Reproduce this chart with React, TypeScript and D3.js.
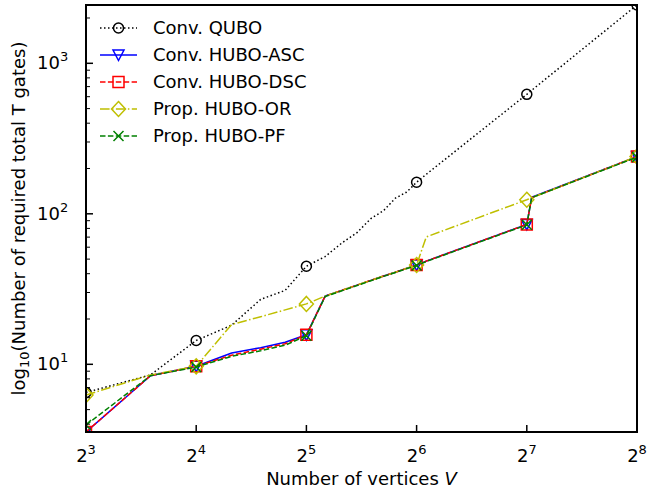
import React, { useEffect, useRef } from 'react';
import * as d3 from 'd3';

// number of vertices V (markers only at powers of two)
const vertices = [8, 12, 16, 20, 24, 28, 32, 36, 40, 44, 48, 52, 56, 60, 64, 68, 128, 132, 256];
const markedVertices = [8, 16, 32, 64, 128, 256];

// total T gates per method
const convQubo = [6.5, 8.5, 14.4, 18.2, 27, 31, 44.8, 52, 64, 75, 93, 105, 127, 139, 162, 183, 622, 662, 2440];
const convHuboAsc = [3.55, 8.4, 9.7, 11.9, 12.9, 14.0, 15.7, 28.4, 31, 33.6, 36.1, 38.6, 40.9, 43.4, 45.7, 48.5, 85, 129, 240];
const convHuboDsc = [3.55, 8.4, 9.7, 11.5, 12.6, 13.7, 15.7, 28.4, 31, 33.6, 36.1, 38.6, 40.9, 43.4, 45.7, 48.5, 85, 128, 240];
const propHuboOr = [6.25, 8.5, 9.7, 18.4, 20.7, 23.0, 25.2, 28.4, 31, 33.6, 36.1, 38.6, 40.9, 43.4, 45.7, 70.2, 124, 128, 240];
const propHuboPf = [3.95, 8.4, 9.6, 11.3, 12.3, 13.4, 15.5, 28.2, 30.8, 33.4, 35.9, 38.4, 40.7, 43.2, 45.4, 48.2, 84.5, 128, 238];

const seriesNames = ['Conv. QUBO', 'Conv. HUBO-ASC', 'Conv. HUBO-DSC', 'Prop. HUBO-OR', 'Prop. HUBO-PF'];

const xTickExponents = [3, 4, 5, 6, 7, 8];
const yTickExponents = [1, 2, 3];

type Marker = 'circle' | 'triangleDown' | 'square' | 'diamond' | 'x';

const styles: { color: string; dash: string; marker: Marker }[] = [
  { color: '#000000', dash: '1.5,2.5', marker: 'circle' },
  { color: '#0000ff', dash: '', marker: 'triangleDown' },
  { color: '#ff0000', dash: '5.5,2.4', marker: 'square' },
  { color: '#bfbf00', dash: '9.6,2.4,1.5,2.4', marker: 'diamond' },
  { color: '#008000', dash: '5.5,2.4', marker: 'x' },
];

const markerPath = (m: Marker): string => {
  switch (m) {
    case 'circle':
      return 'M5,0A5,5 0 1,1 -5,0A5,5 0 1,1 5,0Z';
    case 'triangleDown':
      return 'M-5.5,-5L5.5,-5L0,5.5Z';
    case 'square':
      return 'M-5.5,-5.5L5.5,-5.5L5.5,5.5L-5.5,5.5Z';
    case 'diamond':
      return 'M0,-7.5L7,0L0,7.5L-7,0Z';
    default:
      return 'M-5,-5L5,5M-5,5L5,-5';
  }
};

const FONT = 'DejaVu Sans, sans-serif';
const FS = 18;

const App: React.FC = () => {
  const svgRef = useRef<SVGSVGElement>(null);

  useEffect(() => {
    if (!svgRef.current) return;
    const svg = d3.select(svgRef.current);
    svg.selectAll('*').remove();

    const width = 647;
    const height = 491;
    const margin = { top: 5, right: 10, bottom: 59, left: 86 };
    const innerW = width - margin.left - margin.right;
    const innerH = height - margin.top - margin.bottom;

    const x = d3.scaleLog().base(2).domain([8, 256]).range([0, innerW]);
    const y = d3.scaleLog().domain([3.55, 2440]).range([innerH, 0]);

    const g = svg.append('g').attr('transform', `translate(${margin.left},${margin.top})`);

    // lines and markers are clipped to the axes box, like matplotlib
    g.append('clipPath').attr('id', 'plot-clip')
      .append('rect').attr('width', innerW).attr('height', innerH);

    const allSeries = [convQubo, convHuboAsc, convHuboDsc, propHuboOr, propHuboPf];

    const line = d3.line<number>()
      .x((_, i) => x(vertices[i]))
      .y(d => y(d));

    const plot = g.append('g').attr('clip-path', 'url(#plot-clip)');

    allSeries.forEach((vals, si) => {
      const st = styles[si];
      plot.append('path')
        .datum(vals)
        .attr('d', line)
        .attr('fill', 'none')
        .attr('stroke', st.color)
        .attr('stroke-width', 1.5)
        .attr('stroke-dasharray', st.dash || null)
        .attr('stroke-linejoin', 'round');

      vals.forEach((v, i) => {
        if (!markedVertices.includes(vertices[i])) return;
        plot.append('path')
          .attr('d', markerPath(st.marker))
          .attr('transform', `translate(${x(vertices[i])},${y(v)})`)
          .attr('fill', 'none')
          .attr('stroke', st.color)
          .attr('stroke-width', 1.5);
      });
    });

    // frame
    g.append('rect')
      .attr('width', innerW)
      .attr('height', innerH)
      .attr('fill', 'none')
      .attr('stroke', '#000')
      .attr('stroke-width', 2);

    // x ticks (inward)
    xTickExponents.forEach(e => {
      const px = x(Math.pow(2, e));
      g.append('line')
        .attr('x1', px).attr('x2', px)
        .attr('y1', innerH).attr('y2', innerH - 7)
        .attr('stroke', '#000').attr('stroke-width', 1.5);
      const t = g.append('text')
        .attr('x', px)
        .attr('y', innerH + 30)
        .attr('text-anchor', 'middle')
        .attr('font-family', FONT)
        .attr('font-size', FS)
        .attr('fill', '#000');
      t.append('tspan').text('2');
      t.append('tspan').attr('dy', -8).attr('font-size', 13).text(String(e));
    });

    // y ticks (major + minor, inward)
    const [y0, y1] = y.domain();
    for (let dec = 0; dec <= 3; dec++) {
      for (let k = 1; k <= 9; k++) {
        const v = k * Math.pow(10, dec);
        if (v < y0 || v > y1) continue;
        const py = y(v);
        g.append('line')
          .attr('x1', 0).attr('x2', k === 1 ? 7 : 4)
          .attr('y1', py).attr('y2', py)
          .attr('stroke', '#000').attr('stroke-width', k === 1 ? 1.5 : 1);
      }
    }
    yTickExponents.forEach(e => {
      const py = y(Math.pow(10, e));
      const t = g.append('text')
        .attr('x', -49)
        .attr('y', py + 6)
        .attr('font-family', FONT)
        .attr('font-size', FS)
        .attr('fill', '#000');
      t.append('tspan').text('10');
      t.append('tspan').attr('dy', -8).attr('font-size', 13).text(String(e));
    });

    // axis labels
    const xl = svg.append('text')
      .attr('x', margin.left + innerW / 2)
      .attr('y', 485)
      .attr('text-anchor', 'middle')
      .attr('font-family', FONT)
      .attr('font-size', FS)
      .attr('fill', '#000');
    xl.append('tspan').text('Number of vertices ');
    xl.append('tspan').attr('font-style', 'italic').text('V');

    const yl = svg.append('text')
      .attr('transform', `translate(25,${margin.top + innerH / 2}) rotate(-90)`)
      .attr('text-anchor', 'middle')
      .attr('font-family', FONT)
      .attr('font-size', FS)
      .attr('fill', '#000');
    yl.append('tspan').text('log');
    yl.append('tspan').attr('dy', 4).attr('font-size', 13).text('10');
    yl.append('tspan').attr('dy', -4).text('(Number of required total T gates)');

    // legend (no frame)
    const legend = svg.append('g').attr('transform', 'translate(100,28)');
    seriesNames.forEach((name, i) => {
      const st = styles[i];
      const row = legend.append('g').attr('transform', `translate(0,${i * 27})`);
      row.append('line')
        .attr('x1', 0).attr('x2', 37)
        .attr('y1', 0).attr('y2', 0)
        .attr('stroke', st.color)
        .attr('stroke-width', 1.5)
        .attr('stroke-dasharray', st.dash || null);
      row.append('path')
        .attr('d', markerPath(st.marker))
        .attr('transform', 'translate(18.5,0)')
        .attr('fill', 'none')
        .attr('stroke', st.color)
        .attr('stroke-width', 1.5);
      row.append('text')
        .attr('x', 53)
        .attr('y', 0)
        .attr('dy', '0.35em')
        .attr('font-family', FONT)
        .attr('font-size', FS)
        .attr('fill', '#000')
        .text(name);
    });
  }, []);

  return (
    <svg
      ref={svgRef}
      width={647}
      height={491}
      style={{ position: 'absolute', left: 0, top: 0, background: '#fff' }}
    />
  );
};

export default App;
